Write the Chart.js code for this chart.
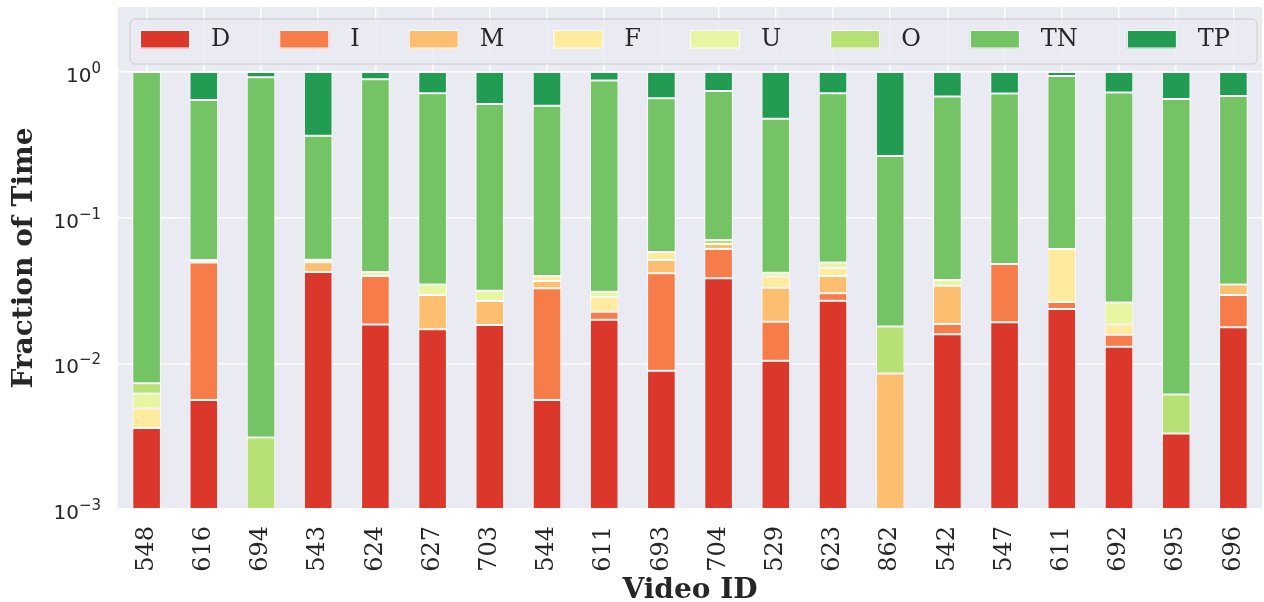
<!DOCTYPE html>
<html>
<head>
<meta charset="utf-8">
<script src="https://cdn.jsdelivr.net/npm/chart.js@4"></script>
<style>
  body { margin: 0; background: #fff; }
  #myChart { display: block; }
</style>
</head>
<body>
<canvas id="myChart" width="1264" height="602"></canvas>
<script>
const videoIds = ['548', '616', '694', '543', '624', '627', '703', '544', '611', '693',
                  '704', '529', '623', '862', '542', '547', '611', '692', '695', '696'];

// fraction of time per state, one value per video
const dVals  = [.0036, .0056, 0, .0424, .0185, .0171, .0183, .0056, .0199, .0089, .0383, .0104, .0269, 0, .0158, .0191, .0236, .0130, .0033, .0177];
const iVals  = [0, .0435, 0, 0, .0213, 0, 0, .0271, .0027, .0326, .0227, .0089, .0034, 0, .0028, .0290, .0028, .0027, 0, .0117];
const mVals  = [0, 0, 0, .0070, 0, .0123, .0085, .0040, 0, .0097, .0050, .0137, .0095, .0085, .0154, 0, 0, 0, 0, .0054];
const fVals  = [.0013, 0, 0, .0020, 0, 0, 0, .0031, .0058, .0069, 0, .0064, .0054, 0, 0, 0, .0346, .0028, 0, 0];
const uVals  = [.0013, .0010, 0, 0, .0026, .0054, .0047, 0, .0026, 0, 0, .0025, .0039, 0, .0033, 0, 0, .0076, 0, 0];
const oVals  = [.0011, .0010, .0031, 0, 0, 0, 0, 0, 0, 0, .0043, 0, 0, .0094, 0, 0, 0, 0, .0028, 0];
const tnVals = [.9897, .5910, .9159, .3126, .8486, .6782, .5715, .5472, .8410, .6019, .6707, .4361, .6639, .2471, .6397, .6619, .8780, .6949, .6469, .6492];
const tpVals = [.0030, .3579, .0810, .6360, .1090, .2870, .3970, .4130, .1280, .3400, .2590, .5220, .2870, .7350, .3230, .2900, .0610, .2790, .3470, .3160];

const seriesNames = ['D', 'I', 'M', 'F', 'U', 'O', 'TN', 'TP'];
const seriesColors = ['#db382b', '#f67c4a', '#fdbf6f', '#feeb9e', '#e9f6a1', '#b7e075', '#74c365', '#229c52'];
const yTicks = [0.001, 0.01, 0.1, 1];

const allVals = [dVals, iVals, mVals, fVals, uVals, oVals, tnVals, tpVals];
const textColor = '#262626';

const datasets = seriesNames.map((name, k) => ({
  label: name,
  data: allVals[k].map(v => v === 0 ? null : v),
  backgroundColor: seriesColors[k],
  borderColor: '#ffffff',
  borderWidth: 1,
  borderSkipped: false,
  categoryPercentage: 1.0,
  barPercentage: 0.5
}));

// grey seaborn-like background
const bgPlugin = {
  id: 'bg',
  beforeDraw(chart) {
    const a = chart.chartArea, ctx = chart.ctx;
    ctx.save();
    ctx.fillStyle = '#eaeaf2';
    ctx.fillRect(a.left, a.top, a.right - a.left, a.bottom - a.top);
    ctx.restore();
  }
};

// y tick labels as 10 with a raised exponent (like mathtext)
const powerLabels = {
  id: 'powerLabels',
  afterDraw(chart) {
    const ctx = chart.ctx, sc = chart.scales.y;
    ctx.save();
    ctx.fillStyle = textColor;
    ctx.textAlign = 'left';
    ctx.textBaseline = 'alphabetic';
    sc.ticks.forEach(t => {
      const y = sc.getPixelForValue(t.value);
      const e = Math.round(Math.log10(t.value));
      const expTxt = e < 0 ? '\u2212' + (-e) : String(e);
      ctx.font = '15px "DejaVu Sans"';
      const ew = ctx.measureText(expTxt).width;
      ctx.font = '20px "DejaVu Sans"';
      const bw = ctx.measureText('10').width;
      const right = 101;
      ctx.fillText('10', right - ew - bw, y + 10);
      ctx.font = '15px "DejaVu Sans"';
      ctx.fillText(expTxt, right - ew, y + 1);
    });
    ctx.restore();
  }
};

// legend drawn inside the plot, one row
const legendPlugin = {
  id: 'innerLegend',
  afterDatasetsDraw(chart) {
    const ctx = chart.ctx;
    ctx.save();
    const bx = 130, by = 19, bw = 1127, bh = 45;
    ctx.beginPath();
    ctx.roundRect(bx, by, bw, bh, 5);
    ctx.fillStyle = 'rgba(234,234,242,0.8)';
    ctx.fill();
    ctx.strokeStyle = '#cccccc';
    ctx.lineWidth = 1;
    ctx.stroke();
    ctx.font = '24px "DejaVu Serif"';
    ctx.textBaseline = 'middle';
    let x = 140;
    chart.data.datasets.forEach(ds => {
      ctx.fillStyle = ds.backgroundColor;
      ctx.fillRect(x, 30, 50, 18.5);
      ctx.strokeStyle = '#ffffff';
      ctx.strokeRect(x + 0.5, 30.5, 49, 17.5);
      ctx.fillStyle = textColor;
      ctx.fillText(ds.label, x + 71, 40);
      x += 70 + ctx.measureText(ds.label).width + 50;
    });
    ctx.restore();
  }
};

const config = {
  type: 'bar',
  data: { labels: videoIds, datasets: datasets },
  options: {
    responsive: false,
    animation: false,
    layout: { padding: { top: 7, right: 2, left: 0, bottom: 0 } },
    plugins: { legend: { display: false }, tooltip: { enabled: false } },
    scales: {
      x: {
        stacked: true,
        grid: { color: '#ffffff', lineWidth: 1.5, offset: false, drawTicks: false },
        border: { display: false },
        ticks: {
          autoSkip: false, maxRotation: 90, minRotation: 90, padding: 17,
          color: textColor, font: { family: 'DejaVu Serif', size: 24 }
        },
        title: {
          display: true, text: 'Video ID', color: textColor,
          font: { family: 'DejaVu Serif', size: 28, weight: 'bold', lineHeight: 0.8 },
          padding: { top: 0, bottom: 0 }
        },
        afterFit(scale) {
          scale.height = 93;
          scale.paddingLeft = 0;
          scale.paddingRight = 0;
        }
      },
      y: {
        type: 'logarithmic',
        stacked: true,
        min: 0.001,
        max: 2.79,
        grid: { color: '#ffffff', lineWidth: 1.5, drawTicks: false },
        border: { display: false },
        afterBuildTicks(scale) { scale.ticks = yTicks.map(v => ({ value: v })); },
        ticks: { display: false },
        title: {
          display: true, text: 'Fraction of Time', color: textColor,
          font: { family: 'DejaVu Serif', size: 28, weight: 'bold' },
          padding: { top: 8, bottom: 0 }
        },
        afterFit(scale) {
          scale.width = 118;
          scale.paddingTop = 0;
          scale.paddingBottom = 0;
        }
      }
    }
  },
  plugins: [bgPlugin, legendPlugin, powerLabels]
};

const myChart = new Chart(document.getElementById('myChart'), config);
</script>
</body>
</html>
